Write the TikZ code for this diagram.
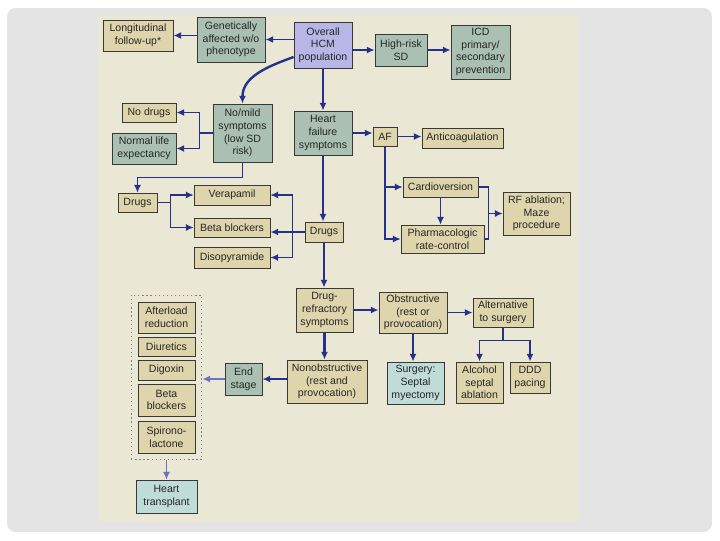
\documentclass[tikz,border=0pt]{standalone}
\usepackage{fontspec}
\setmainfont{Liberation Sans}
\usetikzlibrary{arrows.meta,calc,fit}
\definecolor{PageCream}{RGB}{234,231,213}
\definecolor{FrameGray}{RGB}{228,228,228}
\definecolor{BoxTan}{RGB}{222,213,172}
\definecolor{BoxSage}{RGB}{170,192,178}
\definecolor{BoxLilac}{RGB}{184,182,230}
\definecolor{BoxIce}{RGB}{192,220,216}
\definecolor{ArrowBlue}{RGB}{38,50,138}
\definecolor{ArrowPale}{RGB}{105,115,190}

\begin{document}
\begin{tikzpicture}[
  x=0.025cm, y=-0.025cm,
  font=\fontsize{7.5}{9}\selectfont,
  >={Latex[length=5.5pt,width=5pt]},
  flow/.style={->, line width=1.2pt, draw=ArrowBlue},
  trunk/.style={flow, line width=1.7pt},
  slim/.style={flow, line width=0.8pt},
  link/.style={line width=0.8pt, draw=ArrowBlue},
  pale/.style={->, line width=0.8pt, draw=ArrowPale},
  box/.style={draw=black!78, line width=0.6pt, align=center,
              inner sep=1pt, text=black!85},
  tan/.style={box, fill=BoxTan},
  sage/.style={box, fill=BoxSage},
  lilac/.style={box, fill=BoxLilac},
  ice/.style={box, fill=BoxIce},
  group/.style={draw=black!50, dotted, line width=0.9pt,
                inner sep=0.16cm}
]
\useasboundingbox (0,0) rectangle (720,540);

% Slide frame and scanned page.
\fill[FrameGray, rounded corners=6pt] (7,8) rectangle (712,532);
\fill[PageCream] (98,15) rectangle (578,522);

% Top row.
\node[tan, minimum width=1.75cm, minimum height=0.775cm] (longit) at (138,35.5)
  {Longitudinal\\follow-up*};
\node[sage, minimum width=1.7cm, minimum height=1.125cm] (genetic) at (231,39.5)
  {Genetically\\affected w/o\\phenotype};
\node[lilac, minimum width=1.45cm, minimum height=1.15cm] (overall) at (323,45)
  {Overall\\HCM\\population};
\node[sage, minimum width=1.3cm, minimum height=0.8cm] (highrisk) at (401,50)
  {High-risk\\SD};
\node[sage, minimum width=1.475cm, minimum height=1.35cm] (icd) at (480.5,52)
  {ICD\\primary/\\secondary\\prevention};

% No/mild symptoms branch.
\node[tan, minimum width=1.35cm, minimum height=0.475cm] (nodrugs) at (149,112.5)
  {No drugs};
\node[sage, minimum width=1.6cm, minimum height=0.775cm] (normal) at (144,148.5)
  {Normal life\\expectancy};
\node[sage, minimum width=1.475cm, minimum height=1.45cm] (nomild) at (242.5,133)
  {No/mild\\symptoms\\(low SD\\risk)};
\node[tan, minimum width=0.975cm, minimum height=0.475cm] (drugsL) at (137.5,202.5)
  {Drugs};
\node[tan, minimum width=1.9cm, minimum height=0.5cm] (verap) at (232,195)
  {Verapamil};
\node[tan, minimum width=1.9cm, minimum height=0.475cm] (betaL) at (232,227.5)
  {Beta blockers};
\node[tan, minimum width=1.9cm, minimum height=0.525cm] (diso) at (232,257.5)
  {Disopyramide};

% Heart failure and AF branch.
\node[sage, minimum width=1.45cm, minimum height=1.1cm] (hf) at (323,133)
  {Heart\\failure\\symptoms};
\node[tan, minimum width=0.6cm, minimum height=0.475cm] (af) at (385,136.5) {AF};
\node[tan, minimum width=2.025cm, minimum height=0.5cm] (anticoag) at (462.5,138)
  {Anticoagulation};
\node[tan, minimum width=1.875cm, minimum height=0.5cm] (cardio) at (440.5,187)
  {Cardioversion};
\node[tan, minimum width=2.075cm, minimum height=0.7cm] (pharma) at (442.5,239)
  {Pharmacologic\\rate-control};
\node[tan, minimum width=1.675cm, minimum height=1.075cm] (rf) at (536.5,213.5)
  {RF ablation;\\Maze\\procedure};
\node[tan, minimum width=0.95cm, minimum height=0.5cm] (drugsC) at (324,232)
  {Drugs};

% Drug-refractory branch.
\node[tan, minimum width=1.425cm, minimum height=1.1cm] (refract) at (324.5,310)
  {Drug-\\refractory\\symptoms};
\node[tan, minimum width=1.7cm, minimum height=1.025cm] (obstr) at (413,312.5)
  {Obstructive\\(rest or\\provocation)};
\node[tan, minimum width=1.5cm, minimum height=0.725cm] (altern) at (503,312.5)
  {Alternative\\to surgery};
\node[ice, minimum width=1.425cm, minimum height=1.05cm] (surgery) at (415.5,383)
  {Surgery:\\Septal\\myectomy};
\node[tan, minimum width=1.175cm, minimum height=1.025cm] (alcohol) at (479.5,382.5)
  {Alcohol\\septal\\ablation};
\node[tan, minimum width=1.0cm, minimum height=0.775cm] (ddd) at (530,377.5)
  {DDD\\pacing};
\node[tan, minimum width=2.0cm, minimum height=1.075cm] (nonobstr) at (327,381.5)
  {Nonobstructive\\(rest and\\provocation)};
\node[sage, minimum width=0.925cm, minimum height=0.8cm] (endst) at (243.5,379)
  {End\\stage};

% End-stage therapies.
\node[tan, minimum width=1.425cm, minimum height=0.775cm] (afterload) at (166.5,317.5)
  {Afterload\\reduction};
\node[tan, minimum width=1.425cm, minimum height=0.475cm] (diur) at (166.5,346.5)
  {Diuretics};
\node[tan, minimum width=1.425cm, minimum height=0.5cm] (digox) at (166.5,370)
  {Digoxin};
\node[tan, minimum width=1.425cm, minimum height=0.8cm] (betaR) at (166.5,400)
  {Beta\\blockers};
\node[tan, minimum width=1.425cm, minimum height=0.8cm] (spiro) at (166.5,437)
  {Spirono-\\lactone};
\node[group, fit=(afterload)(spiro)] (therapies) {};
\node[ice, minimum width=1.525cm, minimum height=0.825cm] (transpl) at (166.5,496.5)
  {Heart\\transplant};

% Connectors from the overall population.
\draw[flow] (overall.west |- genetic) -- (genetic.east);
\draw[flow] (genetic.west |- longit) -- (longit.east);
\draw[flow] (overall.east |- highrisk) -- (highrisk.west);
\draw[flow] (highrisk.east) -- (highrisk.east -| icd.west);
\draw[trunk] ($(overall.west)+(0,12)$) to[out=200,in=90] (nomild.north);
\draw[trunk] (overall.south) -- (overall.south |- hf.north);

% No/mild symptoms.
\draw[flow] (nomild.west) -- ++(-13,0) |- (nodrugs.east);
\draw[flow] (nomild.west) -- ++(-13,0) |- (normal.east);
\draw[slim] (nomild.south) -- ++(0,15) -| (drugsL.north);
\draw[slim] (drugsL.east) -- ++(13,0) |- (verap.west);
\draw[slim] (drugsL.east) -- ++(13,0) |- (betaL.west);

% Heart failure symptoms.
\draw[trunk] (hf.south) -- (hf.south |- drugsC.north);
\draw[flow] (drugsC.west) -- (betaL.east |- drugsC.west);
\draw[slim] (drugsC.west) -- ++(-12,0) |- (verap.east);
\draw[slim] (drugsC.west) -- ++(-12,0) |- (diso.east);
\draw[flow] (hf.east) -- (hf.east -| af.west);
\draw[flow] (af.east) -- (af.east -| anticoag.west);
\draw[slim] (af.south) |- (cardio.west);
\draw[slim] (af.south) |- (pharma.west);
\draw[slim] (cardio.south) -- (cardio.south |- pharma.north);
\coordinate (rfjoin) at ($(rf.west)+(-14,0)$);
\draw[link] (cardio.east) -| (rfjoin) |- (pharma.east);
\draw[slim] (rfjoin) -- (rf.west);

% Drug-refractory symptoms.
\draw[trunk] (drugsC.south) -- (drugsC.south |- refract.north);
\draw[flow] (refract.east) -- (refract.east -| obstr.west);
\draw[flow] (obstr.east) -- (obstr.east -| altern.west);
\draw[trunk] (obstr.south) -- (obstr.south |- surgery.north);
\draw[flow] (altern.south) -- ++(0,13) -| (alcohol.north);
\draw[flow] (altern.south) -- ++(0,13) -| (ddd.north);
\draw[trunk] (refract.south) -- (refract.south |- nonobstr.north);
\draw[trunk] (nonobstr.west |- endst) -- (endst.east);
\draw[pale] (endst.west) -- (endst.west -| therapies.east);
\draw[pale] (therapies.south) -- (transpl.north);

\end{tikzpicture}
\end{document}
